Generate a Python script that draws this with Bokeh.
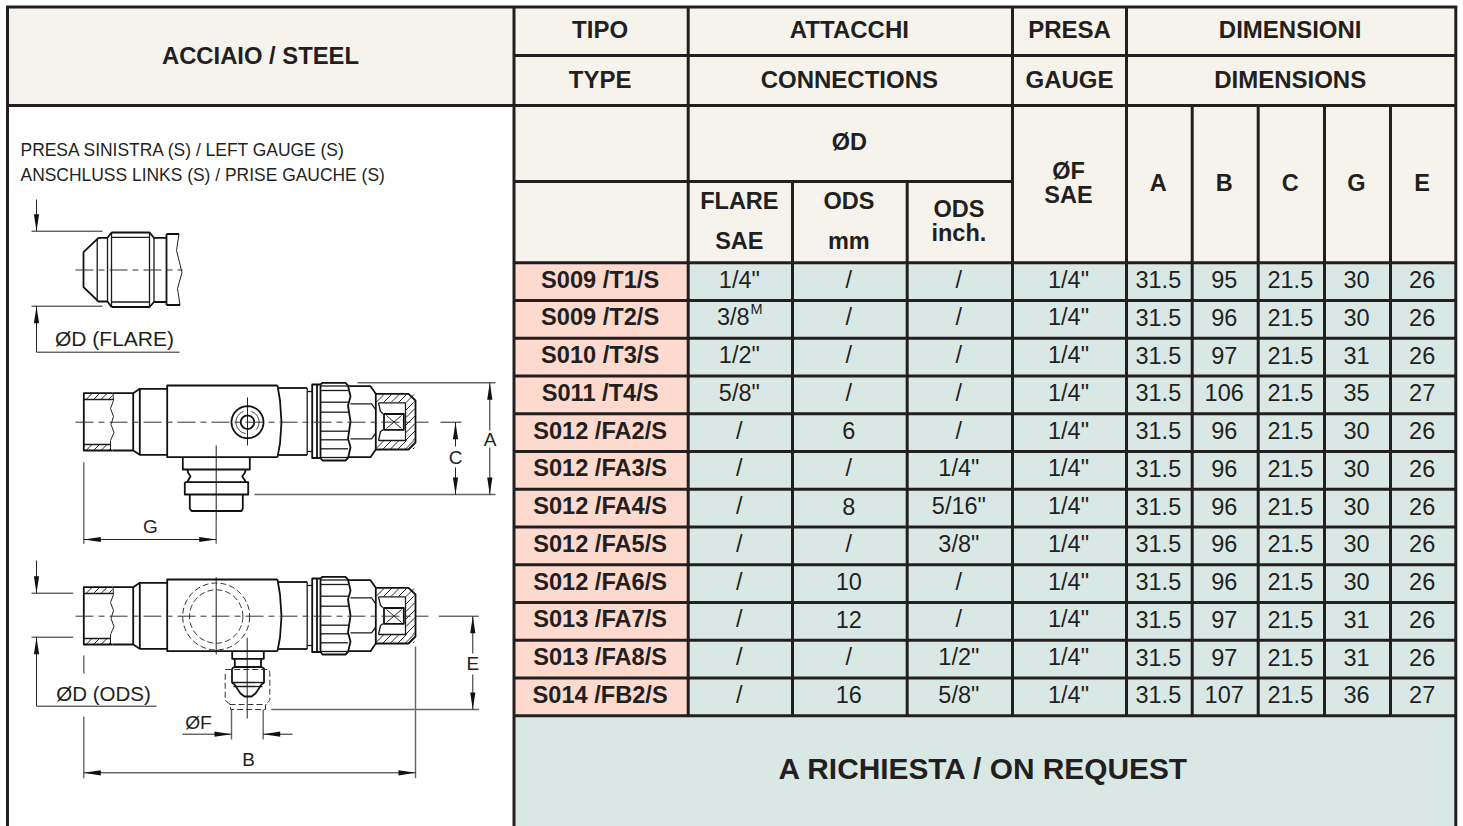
import numpy as np
from bokeh.core.properties import value
from bokeh.embed import file_html
from bokeh.models import Range1d
from bokeh.plotting import figure
from bokeh.resources import INLINE

# ---- table content ----
codes = ["S009 /T1/S", "S009 /T2/S", "S010 /T3/S", "S011 /T4/S", "S012 /FA2/S", "S012 /FA3/S",
         "S012 /FA4/S", "S012 /FA5/S", "S012 /FA6/S", "S013 /FA7/S", "S013 /FA8/S", "S014 /FB2/S"]
flare = ['1/4"', "3/8", '1/2"', '5/8"', "/", "/", "/", "/", "/", "/", "/", "/"]
ods_mm = ["/", "/", "/", "/", "6", "/", "8", "/", "10", "12", "/", "16"]
ods_inch = ["/", "/", "/", "/", "/", '1/4"', '5/16"', '3/8"', "/", "/", '1/2"', '5/8"']
gauge = ['1/4"'] * 12
dim_a = ["31.5"] * 12
dim_b = ["95", "96", "97", "106", "96", "96", "96", "96", "96", "97", "97", "107"]
dim_c = ["21.5"] * 12
dim_g = ["30", "30", "31", "35", "30", "30", "30", "30", "30", "31", "31", "36"]
dim_e = ["26", "26", "26", "27", "26", "26", "26", "26", "26", "26", "26", "27"]
columns = [flare, ods_mm, ods_inch, gauge, dim_a, dim_b, dim_c, dim_g, dim_e]

# ---- table grid (pixel layout) ----
VX = [7, 513.5, 687.7, 792, 906.7, 1012, 1126, 1191.7, 1257.7, 1324, 1390, 1455.3]
HY = [6.5, 55, 105, 181, 262.3]
ROW_H = 37.75
rows_y = [HY[4] + i * ROW_H for i in range(13)]
BOTTOM = 830

BEIGE, PINK, TEAL, INK = "#F6F3EC", "#FDD9CE", "#DAE8E5", "#231F20"
FONT = value("Liberation Sans")

p = figure(width=1463, height=826, output_backend="svg", toolbar_location=None,
           x_range=Range1d(0, 1463), y_range=Range1d(826, 0),
           x_axis_type=None, y_axis_type=None, min_border=0, outline_line_color=None,
           margin=(0, 0, 0, 0))
p.background_fill_color = "white"


def fill(x0, y0, x1, y1, color):
    p.quad(left=[x0], right=[x1], top=[y0], bottom=[y1], fill_color=color, line_color=None)


fill(VX[0], HY[0], VX[-1], HY[2], BEIGE)
fill(VX[1], HY[2], VX[-1], HY[4], BEIGE)
fill(VX[1], rows_y[0], VX[2], rows_y[12], PINK)
fill(VX[2], rows_y[0], VX[-1], rows_y[12], TEAL)
fill(VX[1], rows_y[12], VX[-1], BOTTOM, TEAL)

# grid lines
gx, gy = [], []


def seg(x0, y0, x1, y1):
    gx.append([x0, x1])
    gy.append([y0, y1])


seg(VX[0] - 1.5, HY[0], VX[-1] + 1.5, HY[0])
seg(VX[1], HY[1], VX[-1], HY[1])
seg(VX[0], HY[2], VX[-1], HY[2])
seg(VX[1], HY[3], VX[5], HY[3])
for y in rows_y:
    seg(VX[1], y, VX[-1], y)
seg(VX[0], HY[0], VX[0], BOTTOM)
seg(VX[1], HY[0], VX[1], BOTTOM)
seg(VX[-1], HY[0], VX[-1], BOTTOM)
seg(VX[2], HY[0], VX[2], rows_y[12])
seg(VX[5], HY[0], VX[5], rows_y[12])
seg(VX[6], HY[0], VX[6], rows_y[12])
for i in (3, 4):
    seg(VX[i], HY[3], VX[i], rows_y[12])
for i in (7, 8, 9, 10):
    seg(VX[i], HY[2], VX[i], rows_y[12])
p.multi_line(gx, gy, line_color=INK, line_width=3)


def label(x, y, s, size=23.5, bold=False, align="center", color=INK):
    p.text([x], [y], text=[s], text_font=FONT, text_font_size=f"{size}px",
           text_font_style="bold" if bold else "normal", text_align=align,
           text_baseline="middle", text_color=color)


mid = lambda a, b: (a + b) / 2
HEAD = 24
label(260, 55, "ACCIAIO / STEEL", 23.8, True)
label(mid(VX[1], VX[2]) - 1, 29, "TIPO", HEAD, True)
label(mid(VX[1], VX[2]) - 1, 79, "TYPE", HEAD, True)
label(mid(VX[2], VX[5]) - 1, 29, "ATTACCHI", HEAD, True)
label(mid(VX[2], VX[5]) - 1, 79, "CONNECTIONS", HEAD, True)
label(mid(VX[5], VX[6]), 29, "PRESA", HEAD, True)
label(mid(VX[5], VX[6]), 79, "GAUGE", HEAD, True)
label(mid(VX[6], VX[-1]) - 1, 29, "DIMENSIONI", HEAD, True)
label(mid(VX[6], VX[-1]) - 1, 79, "DIMENSIONS", HEAD, True)
label(mid(VX[2], VX[5]) - 1, 141, "ØD", 23.5, True)
label(mid(VX[2], VX[3]) - 1, 200, "FLARE", 23.5, True)
label(mid(VX[2], VX[3]) - 1, 240, "SAE", 23.5, True)
label(mid(VX[3], VX[4]) - 1, 200, "ODS", 23.5, True)
label(mid(VX[3], VX[4]) - 1, 240, "mm", 23.5, True)
label(mid(VX[4], VX[5]) - 1, 208, "ODS", 23.5, True)
label(mid(VX[4], VX[5]) - 1, 232, "inch.", 23.5, True)
label(mid(VX[5], VX[6]) - 1, 170, "ØF", 23.5, True)
label(mid(VX[5], VX[6]) - 1, 194, "SAE", 23.5, True)
for i, h in zip(range(6, 11), ["A", "B", "C", "G", "E"]):
    label(mid(VX[i], VX[i + 1]) - 1, 182, h, 23.5, True)
label(mid(VX[1], VX[-1]) - 1, 768, "A RICHIESTA / ON REQUEST", 29.85, True)

for r, code in enumerate(codes):
    yc = mid(rows_y[r], rows_y[r + 1]) - 2
    label(mid(VX[1], VX[2]) - 1, yc, code, 23.6, True)
    for c, col in enumerate(columns):
        x = mid(VX[c + 2], VX[c + 3]) - 1
        if col[r] == "3/8":  # leaves room for the superscript M
            x -= 6
        label(x, yc, col[r], 23.5)
label(756, 308, "M", 14.5)

# ---- technical drawing ----
thick, med, thin, grey, dash, center = [], [], [], [], [], []


def pl(store, pts):
    store.append(([a for a, _ in pts], [b for _, b in pts]))


def arc(cx, cy, r, a0=0, a1=360, n=60):
    t = np.radians(np.linspace(a0, a1, n))
    return list(zip(cx + r * np.cos(t), cy + r * np.sin(t)))


def hatch(x0, y0, x1, y1, step=7.5):
    """45-degree hatch clipped to a box"""
    w, h = x1 - x0, y1 - y0
    s = step
    while s < w + h:
        a = (x0 + min(s, w), y0 + max(0, s - w))
        b = (x0 + max(0, s - h), y0 + min(s, h))
        pl(thin, [b, a])
        s += step


arrows_x, arrows_y = [], []


def arrow(x, y, dx, dy, L=17, hw=2.6):
    """tip at x,y pointing along (dx,dy)"""
    bx, by = x - dx * L, y - dy * L
    arrows_x.append([x, bx + dy * hw, bx - dy * hw])
    arrows_y.append([y, by + dx * hw, by - dx * hw])


def valve(d):
    y = lambda v: v + d
    C = y(421.7)
    # left tube with hatched sections
    pl(thick, [(112, y(392.7)), (132.7, y(392.7)), (139.3, y(388.3)), (166.7, y(388.3))])
    pl(thick, [(112, y(450)), (132.7, y(450)), (139.3, y(454.3)), (166.7, y(454.3))])
    pl(thick, [(112, y(392.7)), (83.3, y(392.7)), (83.3, y(450)), (112, y(450))])
    pl(med, [(83.3, y(399)), (112.5, y(399))])
    pl(med, [(83.3, y(444)), (110, y(444))])
    hatch(84, y(393), 112, y(399))
    hatch(84, y(444), 110, y(450))
    pl(thin, [(112.5, y(393)), (113, y(400)), (110, y(408)), (113, y(416)), (110.5, y(424)),
              (113.5, y(432)), (110, y(440)), (110, y(450))])
    pl(thick, [(132.7, y(392.7)), (132.7, y(450))])
    pl(thick, [(139.3, y(388.3)), (139.3, y(454.3))])
    # main block
    pl(thick, [(277, y(385)), (166.7, y(385)), (166.7, y(456.7)), (277, y(456.7))])
    pl(thick, [(277, y(385)), (279.5, y(400)), (281, C), (279.5, y(443)), (277, y(456.7))])
    # right tube and flange
    pl(thick, [(278, y(387.5)), (306.7, y(387.5))])
    pl(thick, [(278, y(454.5)), (306.7, y(454.5))])
    pl(med, [(306.7, y(387.5)), (306.7, y(454.5))])
    pl(thick, [(320, y(384)), (311.7, y(384)), (311.7, y(457.5)), (320, y(457.5))])
    pl(med, [(306.7, y(391)), (311.7, y(391))])
    pl(med, [(306.7, y(451)), (311.7, y(451))])
    pl(thick, [(316.5, y(384)), (316.5, y(458))])
    # knurled nut
    pl(thick, [(320, y(384)), (322, y(382.3)), (345, y(382.3)), (347.5, y(385)), (350, y(396)),
               (347.5, y(405)), (350, y(421)), (347.5, y(438)), (350, y(447)), (347.5, y(457.5)),
               (345, y(460)), (322, y(460)), (320, y(457.5)), (320, y(384))])
    for v in (385.5, 390, 401.7, 411.7, 430.7, 439.3, 448.3, 457):
        pl(med, [(320.5, y(v)), (347.5, y(v))])
    # hexagon
    pl(thick, [(347.5, y(385.7)), (370, y(385.7)), (375.3, y(393.3)), (375.3, y(449)),
               (370, y(456.7)), (347.5, y(456.7))])
    pl(med, [(350, y(403.3)), (371, y(403.3)), (375, y(409))])
    pl(med, [(350, y(438.3)), (371, y(438.3)), (375, y(433))])
    # hatched cap
    pl(thick, [(375.3, y(393.3)), (408, y(393.3)), (415, y(400)), (415, y(442)),
               (408, y(449)), (375.3, y(449))])
    pl(med, [(378, y(402.3)), (405, y(402.3)), (405, y(440)), (378, y(440))])
    hatch(376, y(394), 414, y(402))
    hatch(376, y(440), 414, y(448.5))
    hatch(405.5, y(402), 414.5, y(440))
    pl(med, [(378, y(402.3)), (380, y(411)), (383, y(413.5))])
    pl(med, [(378, y(440)), (380, y(431)), (383, y(429))])
    pl(thick, [(383.5, y(413.5)), (403.3, y(413.5)), (403.3, y(429.3)), (383.5, y(429.3)), (383.5, y(413.5))])
    pl(thin, [(386, y(415)), (401, y(428))])
    pl(thin, [(386, y(428)), (401, y(415))])
    # axis
    pl(center, [(75, C), (428, C)])


valve(0)
valve(194)

# --- flare detail ---
pl(thick, [(111, 232), (107, 237.3), (98, 237.3), (83, 251.7), (83, 286.7), (98, 301), (107, 301), (111, 306.5)])
pl(thick, [(111, 232), (149, 232), (153.5, 237.3), (166, 237.3)])
pl(thick, [(111, 306.5), (149, 306.5), (153.5, 301.5), (166, 301.5)])
for xv, a, b in [(96.7, 238, 300), (107, 237.3, 301), (111, 232, 306.5), (149, 232, 306.5),
                 (153.5, 237.3, 301.5)]:
    pl(med, [(xv, a), (xv, b)])
pl(med, [(111, 236.8), (149, 236.8)])
pl(med, [(111, 301.5), (149, 301.5)])
pl(thick, [(166, 233.5), (166, 304.5)])
pl(thick, [(166, 233.5), (178.5, 233.5)])
pl(thick, [(166, 304.5), (179.5, 304.5)])
pl(thin, [(178.5, 233.5), (176, 250), (181.5, 272), (177, 288), (179.5, 304.5)])
pl(center, [(75, 269.5), (182, 269.5)])
pl(thin, [(31, 230.7), (102, 230.7)])
pl(thin, [(31, 305.7), (102, 305.7)])
pl(thin, [(36, 199), (36, 230.7)])
pl(thin, [(36, 305.7), (36, 351.7), (179, 351.7)])
arrow(36, 230.7, 0, 1)
arrow(36, 305.7, 0, -1)

# --- gauge view ---
pl(thick, arc(247, 421.7, 16))
pl(thin, arc(247, 421.7, 11.5, 100, 250))
pl(thin, arc(247, 421.7, 11.5, 290, 400))
pl(thick, arc(247, 421.7, 6.7))
pl(thin, [(247, 397), (247, 445)])
pl(thick, [(182.3, 456.7), (182.3, 469), (249.3, 469), (249.3, 456.7)])
pl(thick, [(187, 469), (187.5, 472), (190, 476), (187.5, 480), (187, 481.7)])
pl(thick, [(245, 469), (244.5, 472), (241.7, 476), (244.5, 480), (245, 481.7)])
pl(thick, [(184.3, 481.7), (247.7, 481.7), (247.7, 494), (184.3, 494), (184.3, 481.7)])
pl(thick, [(189.3, 494), (189.3, 508), (191, 510.5), (241, 510.5), (242.3, 508), (242.3, 494)])
pl(thin, [(215.7, 445), (215.7, 520)])
pl(grey, [(83.3, 461.7), (83.3, 543.3)])
pl(grey, [(215.7, 520), (215.7, 543.3)])
pl(thin, [(83.3, 539), (215.7, 539)])
arrow(83.3, 539, -1, 0)
arrow(215.7, 539, 1, 0)
label(150, 526, "G", 19)
pl(grey, [(357, 382.3), (495, 382.3)])
pl(grey, [(254, 494), (495, 494)])
pl(thin, [(440, 421.7), (461, 421.7)])
pl(thin, [(489.3, 382.3), (489.3, 430)])
pl(thin, [(489.3, 447), (489.3, 494)])
arrow(489.3, 382.3, 0, -1)
arrow(489.3, 494, 0, 1)
label(489.5, 438.5, "A", 19)
pl(thin, [(455, 421.7), (455, 446)])
pl(thin, [(455, 467), (455, 494)])
arrow(455, 421.7, 0, -1)
arrow(455, 494, 0, 1)
label(455, 457, "C", 19)

# --- ODS view ---
pl(dash, arc(215.7, 616, 33.5))
pl(dash, arc(215.7, 616, 26.7))
pl(thin, [(215.7, 576.7), (215.7, 654)])
pl(thick, [(231.7, 650.7), (231.7, 658.3), (263.3, 658.3), (263.3, 650.7)])
pl(thick, [(234.3, 658.3), (234.3, 666.7)])
pl(thick, [(260.5, 658.3), (260.5, 666.7)])
pl(thick, [(231.5, 668), (234, 666.5), (261, 666.5), (263.5, 668), (263.5, 682), (261, 684),
           (255, 693), (251, 696), (244, 696), (240, 693), (234, 684), (231.5, 682), (231.5, 668)])
pl(med, [(232, 682), (263, 682)])
pl(med, [(233, 686), (262, 686)])
pl(dash, [(224.7, 669), (268.3, 669), (269.3, 672), (269.3, 700), (265, 704), (265, 709),
          (230, 709), (230, 704), (224.7, 700), (224.7, 672)])
pl(dash, [(229, 704), (266, 704)])
pl(thin, [(246.7, 637.3), (246.7, 718)])
pl(grey, [(231, 709), (231, 739)])
pl(grey, [(262.7, 709), (262.7, 739)])
pl(thin, [(182, 733.7), (231, 733.7)])
pl(thin, [(262.7, 733.7), (292, 733.7)])
arrow(231, 733.7, 1, 0)
arrow(262.7, 733.7, -1, 0)
label(198, 722, "ØF", 19.2)
pl(grey, [(83.3, 655), (83.3, 673)])
pl(grey, [(83.3, 716), (83.3, 777.7)])
pl(grey, [(415, 646), (415, 777.7)])
pl(thin, [(83.3, 772.3), (415, 772.3)])
arrow(83.3, 772.3, -1, 0)
arrow(415, 772.3, 1, 0)
label(248, 759, "B", 19)
pl(thin, [(438.3, 615.7), (478.3, 615.7)])
pl(grey, [(270.7, 709), (478.3, 709)])
pl(thin, [(472.3, 615.7), (472.3, 653)])
pl(thin, [(472.3, 674), (472.3, 709)])
arrow(472.3, 615.7, 0, -1)
arrow(472.3, 709, 0, 1)
label(472.3, 662.5, "E", 19)
pl(thin, [(31, 592.7), (72.7, 592.7)])
pl(thin, [(31, 636.7), (72.7, 636.7)])
pl(thin, [(36, 560), (36, 592.7)])
pl(thin, [(36, 636.7), (36, 705.7), (156, 705.7)])
arrow(36, 592.7, 0, 1)
arrow(36, 636.7, 0, -1)

label(20, 149.5, "PRESA SINISTRA (S) / LEFT GAUGE (S)", 17.45, align="left")
label(20, 174, "ANSCHLUSS LINKS (S) / PRISE GAUCHE (S)", 17.45, align="left")
label(114, 338, "ØD (FLARE)", 21)
label(103, 692.5, "ØD (ODS)", 20.5)


def draw(store, **kw):
    p.multi_line([a for a, _ in store], [b for _, b in store], line_join="round", **kw)


draw(grey, line_color="#666666", line_width=1.4)
draw(thin, line_color="#222222", line_width=1)
draw(med, line_color="#1a1a1a", line_width=1.3)
draw(thick, line_color="#111111", line_width=1.8)
draw(dash, line_color="#333333", line_width=1, line_dash="6 3")
draw(center, line_color="#333333", line_width=1, line_dash="18 5 6 5")
p.patches(arrows_x, arrows_y, fill_color="#111111", line_color=None)

open("out.html", "w").write(file_html(p, INLINE))
